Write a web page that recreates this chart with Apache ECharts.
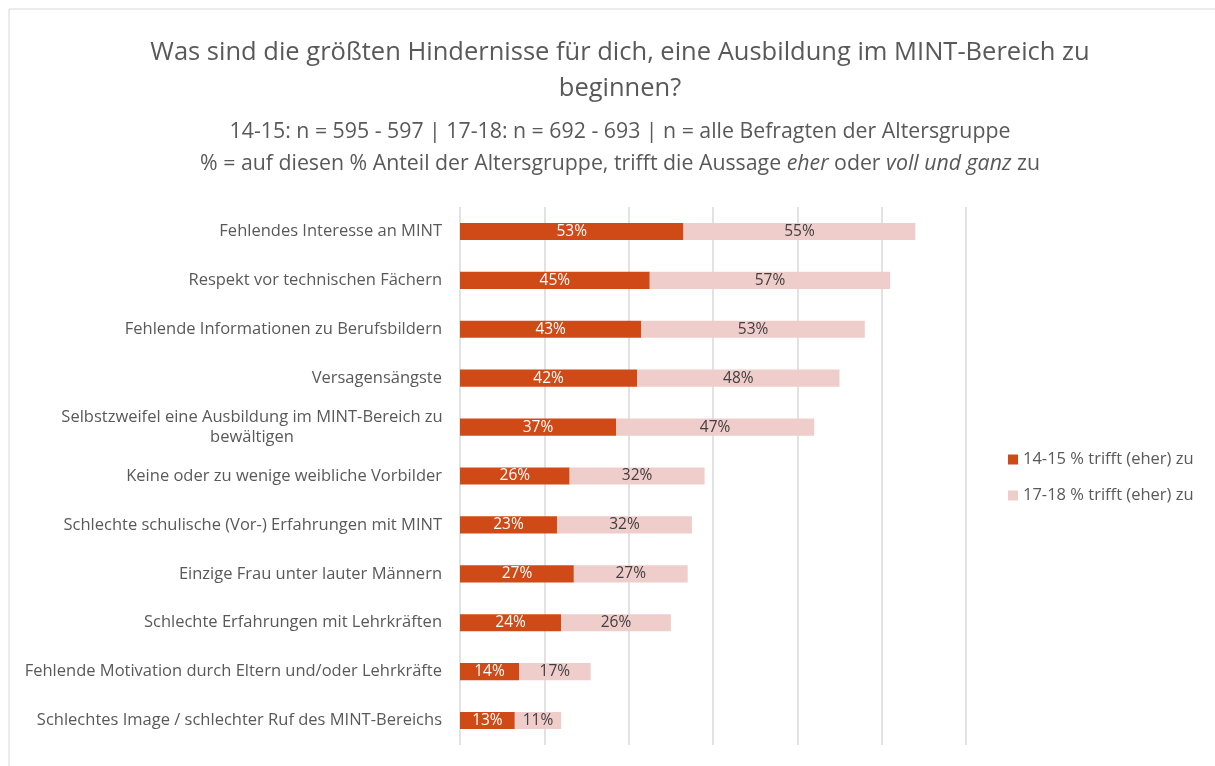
<!DOCTYPE html>
<html>
<head>
<meta charset="utf-8">
<script src="https://cdn.jsdelivr.net/npm/echarts@6/dist/echarts.min.js"></script>
<style>
  html, body { margin: 0; padding: 0; background: #fff; }
  #chart { width: 1215px; height: 766px; }
</style>
</head>
<body>
<div id="chart"></div>
<script>
  const categories = [
    'Fehlendes Interesse an MINT',
    'Respekt vor technischen Fächern',
    'Fehlende Informationen zu Berufsbildern',
    'Versagensängste',
    'Selbstzweifel eine Ausbildung im MINT-Bereich zu\nbewältigen',
    'Keine oder zu wenige weibliche Vorbilder',
    'Schlechte schulische (Vor-) Erfahrungen mit MINT',
    'Einzige Frau unter lauter Männern',
    'Schlechte Erfahrungen mit Lehrkräften',
    'Fehlende Motivation durch Eltern und/oder Lehrkräfte',
    'Schlechtes Image / schlechter Ruf des MINT-Bereichs'
  ];
  const age1415 = [53, 45, 43, 42, 37, 26, 23, 27, 24, 14, 13];
  const age1718 = [55, 57, 53, 48, 47, 32, 32, 27, 26, 17, 11];
  const seriesNames = ['14-15 % trifft (eher) zu', '17-18 % trifft (eher) zu'];

  const font = '"Open Sans", "Liberation Sans", sans-serif';
  const myChart = echarts.init(document.getElementById('chart'));

  const option = {
    backgroundColor: '#fff',
    textStyle: { fontFamily: font },
    graphic: [{
      type: 'rect',
      shape: { x: 9, y: 9, width: 1400, height: 1000 },
      style: { fill: 'none', stroke: '#d9d9d9', lineWidth: 1 },
      silent: true
    }],
    title: {
      text: 'Was sind die größten Hindernisse für dich, eine Ausbildung im MINT-Bereich zu\nbeginnen?',
      subtext: '14-15: n = 595 - 597 | 17-18: n = 692 - 693 | n = alle Befragten der Altersgruppe\n% = auf diesen % Anteil der Altersgruppe, trifft die Aussage {i|eher} oder {i|voll und ganz} zu',
      left: 615,
      textAlign: 'center',
      top: 30,
      itemGap: 9,
      textStyle: { fontFamily: font, fontSize: 25.5, fontWeight: 'normal', color: '#595959', lineHeight: 36 },
      subtextStyle: {
        fontFamily: font, fontSize: 21.3, color: '#595959', lineHeight: 32,
        rich: { i: { fontFamily: font, fontSize: 21.3, fontStyle: 'italic', color: '#595959' } }
      }
    },
    legend: {
      orient: 'vertical',
      left: 1003,
      top: 446,
      itemWidth: 10,
      itemHeight: 10,
      itemGap: 19,
      icon: 'rect',
      textStyle: { fontFamily: font, fontSize: 16.5, color: '#595959' },
      data: seriesNames
    },
    grid: { left: 460, right: 249, top: 207, bottom: 21, containLabel: false },
    xAxis: {
      type: 'value',
      min: 0,
      max: 120,
      interval: 20,
      axisLabel: { show: false },
      axisLine: { show: false },
      axisTick: { show: false },
      splitLine: { show: true, lineStyle: { color: '#d9d9d9', width: 1.5 } }
    },
    yAxis: {
      type: 'category',
      inverse: true,
      data: categories,
      axisLine: { show: false },
      axisTick: { show: false },
      axisLabel: {
        fontFamily: font, fontSize: 16.5, color: '#595959', margin: 18, lineHeight: 20,
        formatter: function (value) {
          const parts = value.split('\n');
          if (parts.length === 1) return value;
          return parts.map(function (p) { return '{w|' + p + '}'; }).join('\n');
        },
        rich: { w: { fontFamily: font, fontSize: 16.5, color: '#595959', width: 380, align: 'center', lineHeight: 20 } }
      }
    },
    series: [
      {
        name: seriesNames[0],
        type: 'bar',
        stack: 'total',
        data: age1415,
        barCategoryGap: '65%',
        itemStyle: { color: '#cf4a17' },
        label: {
          show: true, position: 'inside', formatter: '{c}%',
          fontFamily: font, fontSize: 15.5, color: '#ffffff'
        }
      },
      {
        name: seriesNames[1],
        type: 'bar',
        stack: 'total',
        data: age1718,
        barCategoryGap: '65%',
        itemStyle: { color: '#efcdcb' },
        label: {
          show: true, position: 'inside', formatter: '{c}%',
          fontFamily: font, fontSize: 15.5, color: '#404040'
        }
      }
    ]
  };

  myChart.setOption(option);
</script>
</body>
</html>
